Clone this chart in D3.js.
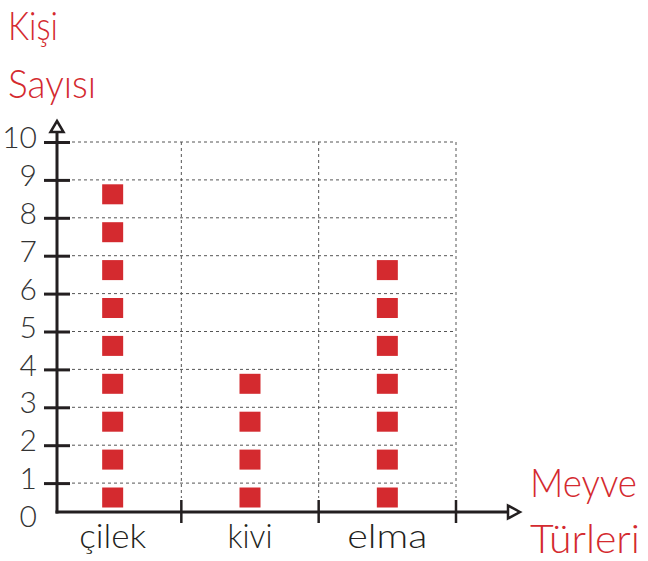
<!DOCTYPE html>
<html>
<head>
<meta charset="utf-8">
<script src="https://cdn.jsdelivr.net/npm/d3@7"></script>
<style>
  html, body { margin: 0; padding: 0; background: #fff; }
  text { font-family: Lato, 'Open Sans', sans-serif; font-weight: 300; }
</style>
</head>
<body>
<svg id="chart" width="648" height="561"></svg>
<script>
const categories = ['çilek', 'kivi', 'elma']
const counts = [9, 4, 7]
const yTicks = [0, 1, 2, 3, 4, 5, 6, 7, 8, 9, 10]
const yTitle = ['Kişi', 'Sayısı']
const xTitle = ['Meyve', 'Türleri']

const red = '#d42a2f'
const ink = '#231f20'

// the reference font is narrower than Lato, so text is squeezed to these widths
const labelWidths = { 'çilek': 67, 'kivi': 45, 'elma': 80 }
const titleWidths = { 'Kişi': 50, 'Sayısı': 88, 'Meyve': 107, 'Türleri': 110 }

const svg = d3.select('#chart')

const x = d3.scaleBand().domain(categories).range([44, 456])
const y = d3.scaleLinear().domain([0, 10]).range([521, 142])

const axisX = 57
const baseY = y(0) - 9

// dashed grid
svg.append('g')
  .selectAll('line')
  .data(yTicks.filter(d => d > 0))
  .join('line')
  .attr('x1', axisX + 15)
  .attr('x2', x.range()[1])
  .attr('y1', d => y(d))
  .attr('y2', d => y(d))
  .attr('stroke', '#555')
  .attr('stroke-width', 1)
  .attr('stroke-dasharray', '3,3')

const dividers = categories.map(c => x(c) + x.bandwidth())

svg.append('g')
  .selectAll('line')
  .data(dividers)
  .join('line')
  .attr('x1', d => d)
  .attr('x2', d => d)
  .attr('y1', y(10))
  .attr('y2', baseY - 14)
  .attr('stroke', '#555')
  .attr('stroke-width', 1)
  .attr('stroke-dasharray', '3,3')

// y axis with labels
const yAxis = svg.append('g')
  .attr('transform', `translate(${axisX},0)`)
  .call(d3.axisLeft(y).tickValues(yTicks).tickSize(0).tickPadding(20))

yAxis.select('.domain').remove()
yAxis.selectAll('.tick text')
  .attr('font-size', 30)
  .attr('font-family', 'Lato, sans-serif')
  .attr('fill', '#333')
  .attr('dy', '0.32em')
  .attr('y', -4)
yAxis.selectAll('.tick line')
  .attr('x1', -13)
  .attr('x2', 13)
  .attr('stroke', ink)
  .attr('stroke-width', 3)
  .attr('display', d => d === 0 ? 'none' : null)

svg.append('line')
  .attr('x1', axisX).attr('x2', axisX)
  .attr('y1', baseY + 1.5).attr('y2', 132)
  .attr('stroke', ink).attr('stroke-width', 3)

svg.append('path')
  .attr('d', `M${axisX},121 L${axisX + 6.5},132 L${axisX - 6.5},132 Z`)
  .attr('fill', '#fff').attr('stroke', ink).attr('stroke-width', 2.5)

// x axis
svg.append('line')
  .attr('x1', axisX - 1.5).attr('x2', 508)
  .attr('y1', baseY).attr('y2', baseY)
  .attr('stroke', ink).attr('stroke-width', 3)

svg.append('path')
  .attr('d', `M520,${baseY} L508,${baseY - 6.5} L508,${baseY + 6.5} Z`)
  .attr('fill', '#fff').attr('stroke', ink).attr('stroke-width', 2.5)

svg.append('g')
  .selectAll('line')
  .data(dividers)
  .join('line')
  .attr('x1', d => d).attr('x2', d => d)
  .attr('y1', baseY - 12).attr('y2', baseY + 11)
  .attr('stroke', ink).attr('stroke-width', 2.5)

svg.append('g')
  .selectAll('text')
  .data(categories)
  .join('text')
  .attr('x', d => x(d) + x.bandwidth() / 2)
  .attr('y', 548)
  .attr('text-anchor', 'middle')
  .attr('font-size', 34)
  .attr('fill', ink)
  .attr('textLength', d => labelWidths[d])
  .attr('lengthAdjust', 'spacingAndGlyphs')
  .text(d => d)

// squares
const squares = categories.flatMap((c, ci) => d3.range(counts[ci]).map(i => ({ c, i })))
const sqW = 21
const sqH = 20

svg.append('g')
  .selectAll('rect')
  .data(squares)
  .join('rect')
  .attr('x', d => x(d.c) + x.bandwidth() / 2 - sqW / 2)
  .attr('y', d => y(d.i + 0.62) - sqH / 2)
  .attr('width', sqW)
  .attr('height', sqH)
  .attr('fill', red)

// titles
svg.append('g')
  .selectAll('text')
  .data(yTitle)
  .join('text')
  .attr('x', 8)
  .attr('y', (d, i) => 40 + i * 58)
  .attr('font-size', 40)
  .attr('fill', red)
  .attr('textLength', d => titleWidths[d])
  .attr('lengthAdjust', 'spacingAndGlyphs')
  .text(d => d)

svg.append('g')
  .selectAll('text')
  .data(xTitle)
  .join('text')
  .attr('x', 530)
  .attr('y', (d, i) => 497 + i * 56)
  .attr('font-size', 40)
  .attr('fill', red)
  .attr('textLength', d => titleWidths[d])
  .attr('lengthAdjust', 'spacingAndGlyphs')
  .text(d => d)
</script>
</body>
</html>
